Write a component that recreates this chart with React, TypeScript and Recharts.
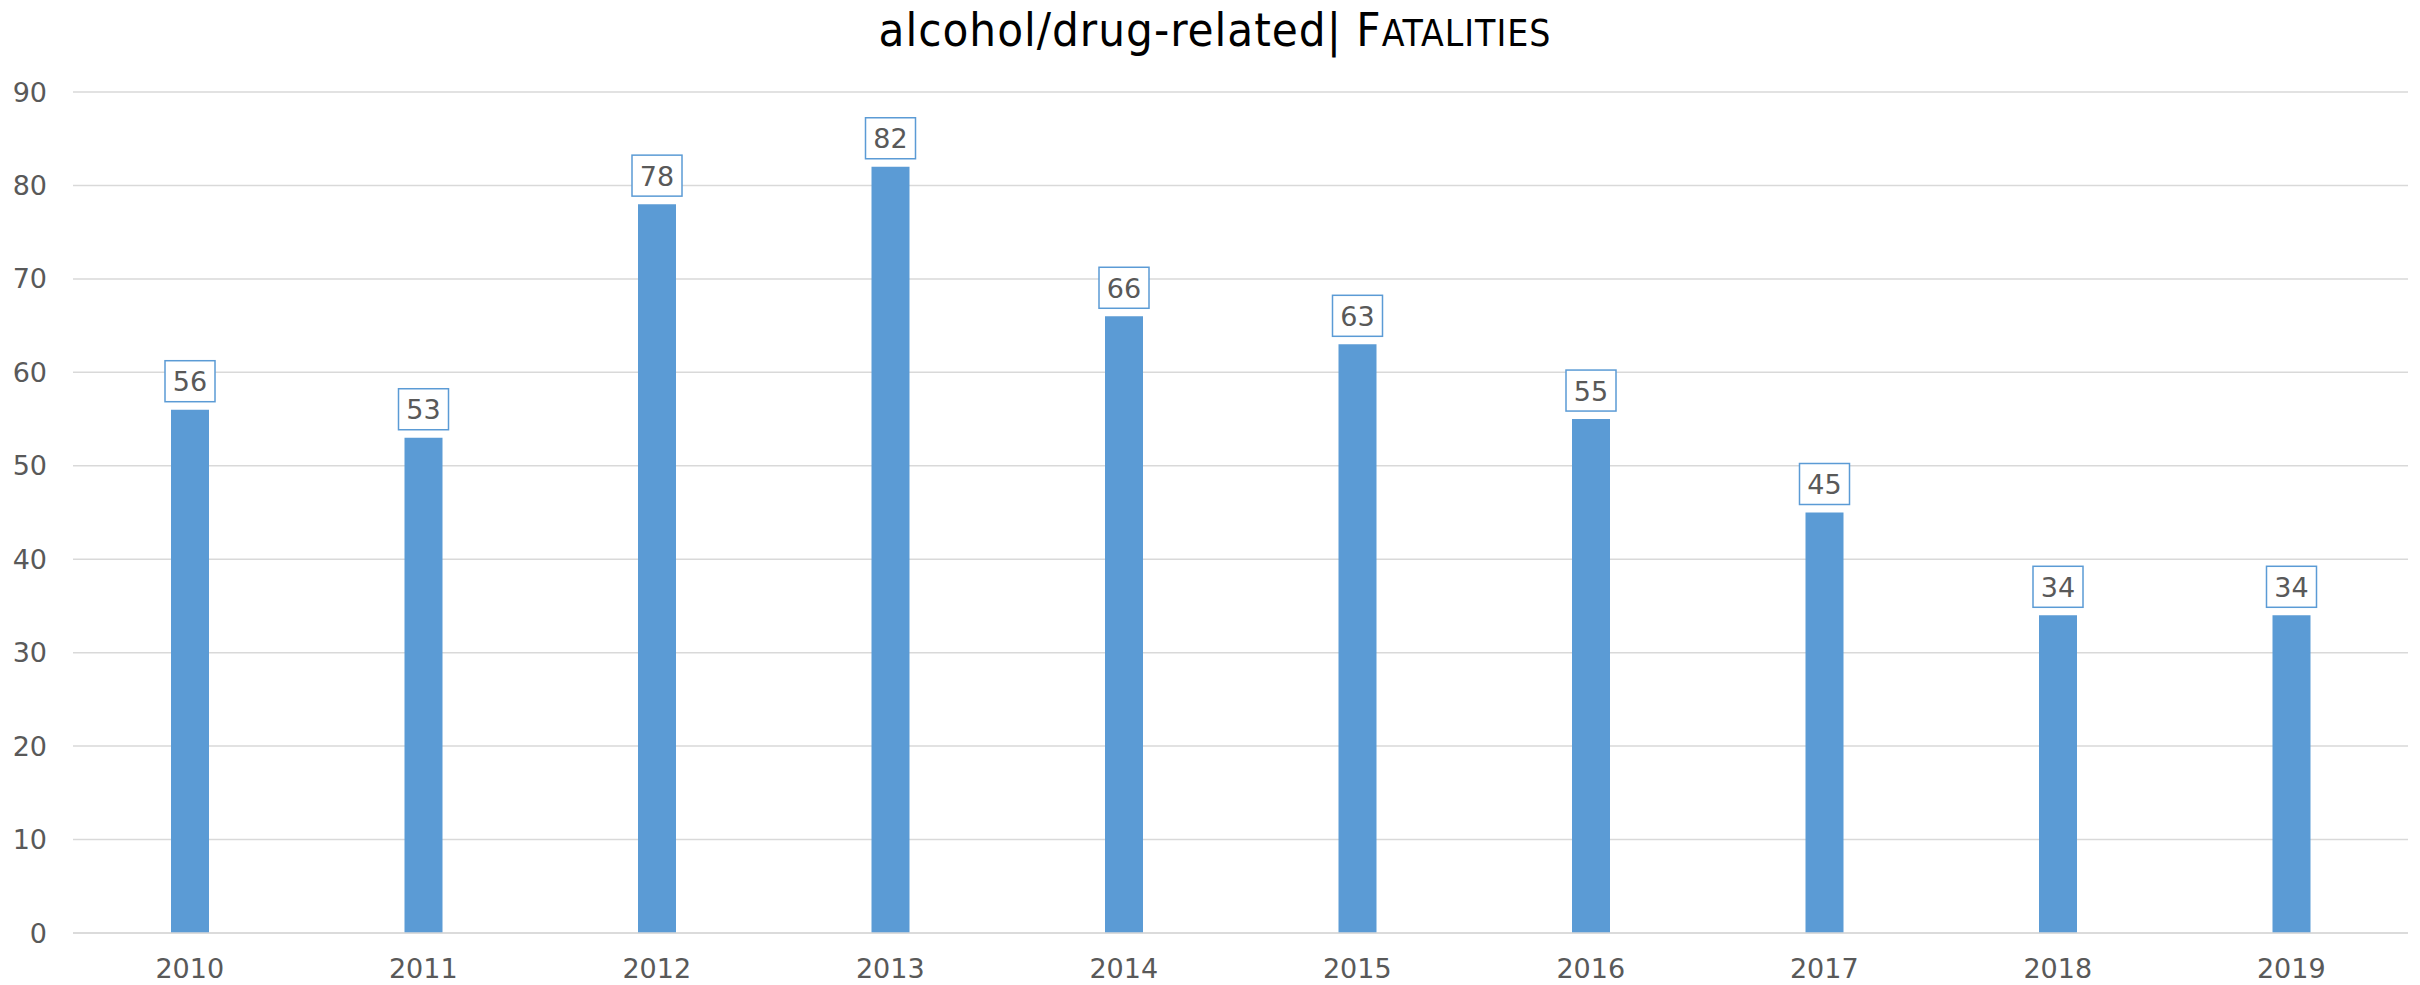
import { BarChart, Bar, XAxis, YAxis, CartesianGrid, LabelList } from "recharts";

const YEARS = ["2010", "2011", "2012", "2013", "2014", "2015", "2016", "2017", "2018", "2019"];
const FATALITIES = [56, 53, 78, 82, 66, 63, 55, 45, 34, 34];
const Y_TICKS = [0, 10, 20, 30, 40, 50, 60, 70, 80, 90];

const BLUE = "#5b9bd5";
const TEXT = "#595959";
const FONT = "'DejaVu Sans', Verdana, sans-serif";
const TITLE_FONT = "'Liberation Sans Narrow', 'DejaVu Sans Condensed', sans-serif";

const data = YEARS.map((year, i) => ({ year, value: FATALITIES[i] }));

function BoxLabel(props: any) {
  const { x, y, width, value } = props;
  const cx = x + width / 2;
  const w = 50;
  const h = 41;
  const top = y - 8 - h;
  return (
    <g>
      <rect x={cx - w / 2} y={top} width={w} height={h} fill="#fff" stroke={BLUE} strokeWidth={1.5} />
      <text x={cx} y={top + h / 2 + 10} textAnchor="middle" fontSize={27} fill={TEXT} fontFamily={FONT}>
        {value}
      </text>
    </g>
  );
}

export default function App() {
  return (
    <div style={{ position: "absolute", left: 0, top: 0, width: 2420, height: 985, background: "#fff" }}>
      <BarChart width={2420} height={985} data={data} margin={{ top: 92, right: 12, left: 0, bottom: 0 }}>
        <text x={1215} y={46} textAnchor="middle" fontFamily={TITLE_FONT} fontSize={47} fill="#000" letterSpacing={1}>
          alcohol/drug-related| F<tspan fontSize={37}>ATALITIES</tspan>
        </text>
        <CartesianGrid vertical={false} stroke="#d9d9d9" strokeWidth={1.5} />
        <XAxis
          dataKey="year"
          height={52}
          axisLine={{ stroke: "#d9d9d9", strokeWidth: 1.5 }}
          tickLine={false}
          tickMargin={20}
          tick={{ fontSize: 27, fill: TEXT, fontFamily: FONT }}
        />
        <YAxis
          width={73}
          domain={[0, 90]}
          ticks={Y_TICKS}
          axisLine={false}
          tickLine={false}
          tickMargin={20}
          tick={{ fontSize: 27, fill: TEXT, fontFamily: FONT }}
        />
        <Bar dataKey="value" fill={BLUE} barSize={38} isAnimationActive={false}>
          <LabelList dataKey="value" content={<BoxLabel />} />
        </Bar>
      </BarChart>
    </div>
  );
}
